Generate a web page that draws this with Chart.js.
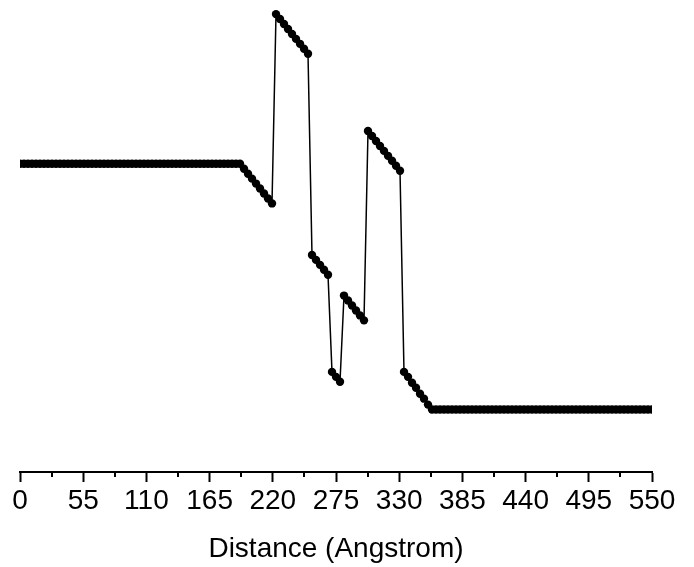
<!DOCTYPE html>
<html>
<head>
<meta charset="utf-8">
<script src="https://cdn.jsdelivr.net/npm/chart.js@4.4.1/dist/chart.umd.min.js"></script>
<style>
  html, body { margin: 0; padding: 0; background: #fff; }
  #profile { display: block; }
</style>
</head>
<body>
<canvas id="profile" width="694" height="567"></canvas>
<script>
// Sample spacing along the distance axis (158 intervals over 0-550 Angstrom)
const stepAngstrom = 550 / 158

// Profile values, one per sample (arbitrary units, no y axis shown)
const profileValues = [
  31.1, 31.1, 31.1, 31.1, 31.1, 31.1, 31.1, 31.1, 31.1, 31.1,
  31.1, 31.1, 31.1, 31.1, 31.1, 31.1, 31.1, 31.1, 31.1, 31.1,
  31.1, 31.1, 31.1, 31.1, 31.1, 31.1, 31.1, 31.1, 31.1, 31.1,
  31.1, 31.1, 31.1, 31.1, 31.1, 31.1, 31.1, 31.1, 31.1, 31.1,
  31.1, 31.1, 31.1, 31.1, 31.1, 31.1, 31.1, 31.1, 31.1, 31.1,
  31.1, 31.1, 31.1, 31.1, 31.1, 31.1,
  30.6, 30.1, 29.6, 29.1, 28.6, 28.1, 27.6, 27.1,
  46.2, 45.7, 45.2, 44.7, 44.2, 43.7, 43.2, 42.7, 42.2,
  21.9, 21.4, 20.9, 20.4, 19.9,
  10.1, 9.6, 9.1,
  17.8, 17.3, 16.8, 16.3, 15.8, 15.3,
  34.4, 33.9, 33.4, 32.9, 32.4, 31.9, 31.4, 30.9, 30.4,
  10.1, 9.6, 9.0, 8.5, 7.9, 7.4, 6.8, 6.3,
  6.3, 6.3, 6.3, 6.3, 6.3, 6.3, 6.3, 6.3, 6.3, 6.3,
  6.3, 6.3, 6.3, 6.3, 6.3, 6.3, 6.3, 6.3, 6.3, 6.3,
  6.3, 6.3, 6.3, 6.3, 6.3, 6.3, 6.3, 6.3, 6.3, 6.3,
  6.3, 6.3, 6.3, 6.3, 6.3, 6.3, 6.3, 6.3, 6.3, 6.3,
  6.3, 6.3, 6.3, 6.3, 6.3, 6.3, 6.3, 6.3, 6.3, 6.3,
  6.3, 6.3, 6.3, 6.3, 6.3
]

// Axis ticks
const xMin = 0
const xMax = 550
const majorStep = 55

const points = profileValues.map((v, i) => ({ x: i * stepAngstrom, y: v }))

// Small in-between ticks on the distance axis
const minorTicksPlugin = {
  id: 'minorTicks',
  afterDraw(chart) {
    const scale = chart.scales.x
    const ctx = chart.ctx
    ctx.save()
    ctx.strokeStyle = '#000'
    ctx.lineWidth = 2
    ctx.beginPath()
    for (let v = xMin + majorStep / 2; v < xMax; v += majorStep) {
      const px = Math.round(scale.getPixelForValue(v))
      ctx.moveTo(px, scale.top)
      ctx.lineTo(px, scale.top + 5)
    }
    ctx.stroke()
    ctx.restore()
  }
}

new Chart(document.getElementById('profile'), {
  type: 'line',
  data: {
    datasets: [{
      data: points,
      borderColor: '#000',
      borderWidth: 1.5,
      backgroundColor: '#000',
      pointRadius: 4.2,
      pointBorderWidth: 0,
      pointBackgroundColor: '#000',
      tension: 0,
      fill: false
    }]
  },
  options: {
    responsive: false,
    devicePixelRatio: 1,
    animation: false,
    layout: {
      padding: { left: 20, right: 42, top: 0, bottom: 0 }
    },
    plugins: {
      legend: { display: false },
      tooltip: { enabled: false }
    },
    scales: {
      x: {
        type: 'linear',
        min: xMin,
        max: xMax,
        afterFit: (scale) => { scale.height = 95 },
        ticks: {
          stepSize: majorStep,
          color: '#000',
          padding: 2,
          maxRotation: 0,
          autoSkip: false,
          font: { family: '"Liberation Sans", Arial, sans-serif', size: 28 }
        },
        grid: {
          display: true,
          drawOnChartArea: false,
          drawTicks: true,
          tickLength: 10,
          tickWidth: 2,
          tickColor: '#000'
        },
        border: { display: true, color: '#000', width: 2 },
        title: {
          display: true,
          text: 'Distance (Angstrom)',
          color: '#000',
          padding: { top: 0, bottom: 1 },
          font: { family: '"Liberation Sans", Arial, sans-serif', size: 28 }
        }
      },
      y: {
        display: false,
        min: 0,
        max: 47.2
      }
    }
  },
  plugins: [minorTicksPlugin]
})
</script>
</body>
</html>
